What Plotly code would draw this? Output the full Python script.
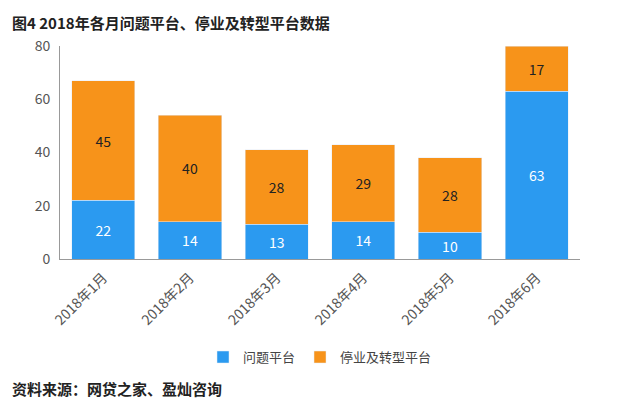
import plotly.graph_objects as go

months = ["2018年1月","2018年2月","2018年3月","2018年4月","2018年5月","2018年6月"]
problem = [22,14,13,14,10,63]
stopped = [45,40,28,29,28,17]

fig = go.Figure()
fig.add_bar(x=months, y=problem, name="问题平台", marker_color="#2B9AF0",
            text=problem, textposition="inside", insidetextanchor="middle",
            textfont=dict(color="white", size=14))
fig.add_bar(x=months, y=stopped, name="停业及转型平台", marker_color="#F7931A",
            text=stopped, textposition="inside", insidetextanchor="middle",
            textfont=dict(color="#222", size=14))
fig.update_layout(
    barmode="stack", bargap=0.27, width=640, height=401,
    paper_bgcolor="white", plot_bgcolor="white",
    font=dict(family="Noto Sans CJK SC", size=13, color="#444"),
    margin=dict(l=52, r=68, t=38, b=150),
    showlegend=True,
    legend=dict(orientation="h", traceorder="normal", x=0.5, xanchor="center", y=-0.39, yanchor="top",
                font=dict(size=13)),
    annotations=[
        dict(text="<b>图4 2018年各月问题平台、停业及转型平台数据</b>", x=-0.096, y=1.17, xref="paper", yref="paper",
             xanchor="left", yanchor="top", showarrow=False, font=dict(size=15, color="#222")),
        dict(text="<b>资料来源：网贷之家、盈灿咨询</b>", x=-0.096, y=-0.665, xref="paper", yref="paper",
             xanchor="left", yanchor="bottom", showarrow=False, font=dict(size=15, color="#222")),
    ],
)
fig.update_yaxes(range=[0,80], dtick=20, showgrid=False, showline=True, linecolor="#999",
                 ticks="", ticklabelstandoff=6, tickfont=dict(size=14, color="#555"))
fig.update_xaxes(showline=True, linecolor="#999", tickangle=-45, ticklabelstandoff=4,
                 tickfont=dict(size=14, color="#555"))
fig.write_html("out.html")
